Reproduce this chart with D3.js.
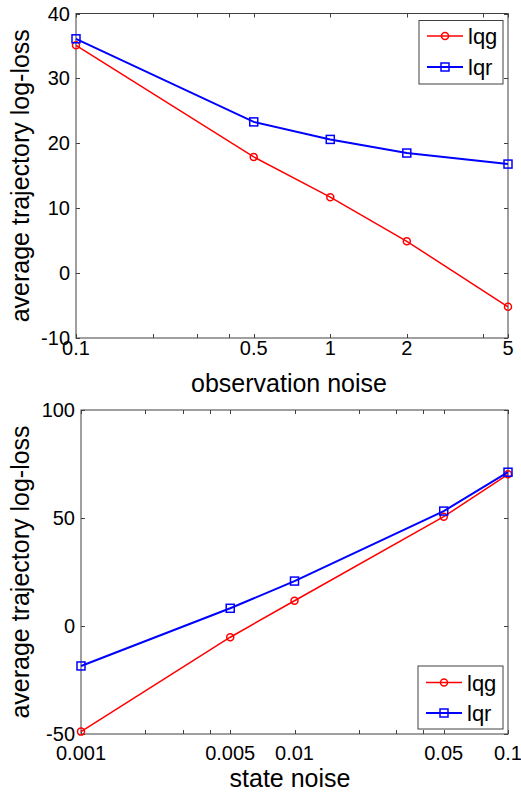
<!DOCTYPE html>
<html>
<head>
<meta charset="utf-8">
<script src="https://cdn.jsdelivr.net/npm/d3@7"></script>
<style>
  body { margin: 0; background: #fff; }
  svg text { font-family: "Liberation Sans", Arial, Helvetica, sans-serif; fill: #000; }
</style>
</head>
<body>
<script>
// top panel data
var obsNoise = [0.1, 0.5, 1, 2, 5];
var obsLqg = [35.1, 17.9, 11.7, 4.9, -5.2];
var obsLqr = [36.1, 23.3, 20.6, 18.5, 16.8];
var obsTicks = [0.1, 0.2, 0.3, 0.4, 0.5, 1, 2, 4, 5];
var obsTickLabels = [0.1, 0.5, 1, 2, 5];
var obsYTicks = [-10, 0, 10, 20, 30, 40];

// bottom panel data
var stateNoise = [0.001, 0.005, 0.01, 0.05, 0.1];
var stateLqg = [-48.9, -5.2, 11.7, 50.6, 70.2];
var stateLqr = [-18.5, 8.2, 20.8, 53.2, 71.2];
var stateTicks = [0.001, 0.002, 0.003, 0.004, 0.005, 0.01, 0.02, 0.03, 0.04, 0.05, 0.1];
var stateTickLabels = [0.001, 0.005, 0.01, 0.05, 0.1];
var stateYTicks = [-50, 0, 50, 100];

var seriesNames = ["lqg", "lqr"];

var svg = d3.select("body").append("svg").attr("width", 521).attr("height", 793);

function drawPanel(p) {
  var x = d3.scaleLog().domain(p.xDomain).range([p.left, p.right]);
  var y = d3.scaleLinear().domain(p.yDomain).range([p.bottom, p.top]);
  var g = svg.append("g");
  var axisCol = "#404040";
  var tl = 4;

  // box
  g.append("rect").attr("x", p.left).attr("y", p.top)
    .attr("width", p.right - p.left).attr("height", p.bottom - p.top)
    .attr("fill", "none").attr("stroke", axisCol).attr("stroke-width", 1);

  // x ticks (inward, top and bottom)
  p.xTicks.forEach(function(t) {
    var xx = Math.round(x(t)) + 0.5;
    g.append("line").attr("x1", xx).attr("x2", xx).attr("y1", p.bottom).attr("y2", p.bottom - tl).attr("stroke", axisCol);
    g.append("line").attr("x1", xx).attr("x2", xx).attr("y1", p.top).attr("y2", p.top + tl).attr("stroke", axisCol);
  });
  p.yTicks.forEach(function(t) {
    var yy = Math.round(y(t)) + 0.5;
    g.append("line").attr("x1", p.left).attr("x2", p.left + tl).attr("y1", yy).attr("y2", yy).attr("stroke", axisCol);
    g.append("line").attr("x1", p.right).attr("x2", p.right - tl).attr("y1", yy).attr("y2", yy).attr("stroke", axisCol);
  });

  // tick labels
  p.xLabels.forEach(function(t) {
    g.append("text").attr("x", x(t)).attr("y", p.bottom + p.xLabOff)
      .attr("text-anchor", "middle").style("font-size", "20px").text(String(t));
  });
  p.yTicks.forEach(function(t) {
    g.append("text").attr("x", p.left - 6).attr("y", y(t) + 7)
      .attr("text-anchor", "end").style("font-size", "20px").text(String(t));
  });

  // axis titles
  g.append("text").attr("x", p.xTitleX).attr("y", p.xTitleY)
    .attr("text-anchor", "middle").style("font-size", "25px").text(p.xTitle);
  g.append("text").attr("transform", "translate(29," + ((p.top + p.bottom) / 2) + ") rotate(-90)")
    .attr("text-anchor", "middle").style("font-size", "25px").text("average trajectory log-loss");

  var line = d3.line().x(function(d) { return x(d[0]); }).y(function(d) { return y(d[1]); });
  var cols = ["#ff0000", "#0000ff"];
  var widths = [1.5, 2];
  [p.lqg, p.lqr].forEach(function(vals, si) {
    var pts = p.xs.map(function(v, i) { return [v, vals[i]]; });
    g.append("path").datum(pts).attr("d", line).attr("fill", "none")
      .attr("stroke", cols[si]).attr("stroke-width", widths[si]);
    pts.forEach(function(d) {
      marker(g, x(d[0]), y(d[1]), si, cols[si]);
    });
  });

  // legend
  var lg = p.legend;
  g.append("rect").attr("x", lg.x).attr("y", lg.y).attr("width", lg.w).attr("height", lg.h)
    .attr("fill", "#fff").attr("stroke", axisCol).attr("stroke-width", 1);
  seriesNames.forEach(function(name, si) {
    var yy = lg.y + lg.rows[si];
    g.append("line").attr("x1", lg.x + 8).attr("x2", lg.x + 44).attr("y1", yy).attr("y2", yy)
      .attr("stroke", cols[si]).attr("stroke-width", widths[si]);
    marker(g, lg.x + 26, yy, si, cols[si]);
    g.append("text").attr("x", lg.x + 49).attr("y", yy + 8).style("font-size", "22px").text(name);
  });
}

function marker(g, cx, cy, kind, col) {
  if (kind === 0) {
    g.append("circle").attr("cx", cx).attr("cy", cy).attr("r", 3.5)
      .attr("fill", "none").attr("stroke", col).attr("stroke-width", 1.5);
  } else {
    g.append("rect").attr("x", cx - 4).attr("y", cy - 4).attr("width", 8).attr("height", 8)
      .attr("fill", "none").attr("stroke", col).attr("stroke-width", 1.5);
  }
}

drawPanel({
  left: 76, right: 508, top: 13.5, bottom: 338,
  xDomain: [0.1, 5], yDomain: [-10, 40],
  xs: obsNoise, lqg: obsLqg, lqr: obsLqr,
  xTicks: obsTicks, xLabels: obsTickLabels, yTicks: obsYTicks,
  xLabOff: 17, xTitle: "observation noise", xTitleX: 289, xTitleY: 392,
  legend: { x: 419, y: 20.5, w: 84, h: 63.5, rows: [15.5, 46.5] }
});

drawPanel({
  left: 81, right: 508, top: 410, bottom: 734,
  xDomain: [0.001, 0.1], yDomain: [-50, 100],
  xs: stateNoise, lqg: stateLqg, lqr: stateLqr,
  xTicks: stateTicks, xLabels: stateTickLabels, yTicks: stateYTicks,
  xLabOff: 26, xTitle: "state noise", xTitleX: 290, xTitleY: 787,
  legend: { x: 418, y: 666, w: 85, h: 63, rows: [16.5, 47] }
});
</script>
</body>
</html>
